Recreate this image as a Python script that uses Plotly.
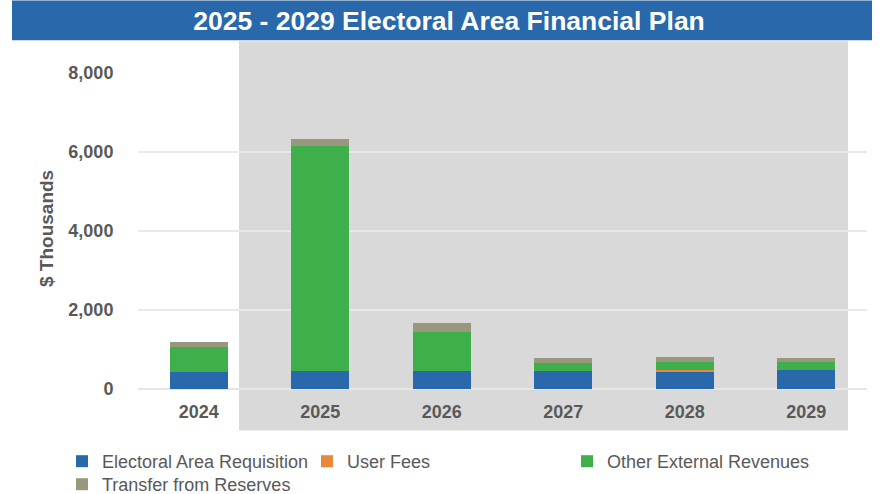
import plotly.graph_objects as go

years = ["2024", "2025", "2026", "2027", "2028", "2029"]
requisition = [420, 450, 450, 450, 440, 480]
user_fees = [0, 0, 0, 0, 50, 0]
other_external = [640, 5700, 1000, 200, 200, 200]
reserves = [130, 180, 220, 140, 110, 110]

series = [
    ("Electoral Area Requisition", requisition, "#2868AB", "legend"),
    ("User Fees", user_fees, "#E8893A", "legend2"),
    ("Other External Revenues", other_external, "#3EAF4A", "legend3"),
    ("Transfer from Reserves", reserves, "#9A977F", "legend4"),
]

W, H = 885, 494
L, R, T, B = 138, 867, 72.7, 389.3
FONT = "Liberation Sans, Arial, sans-serif"

def px_x(p):
    return (p - L) / (R - L)

def px_y(p):
    return (B - p) / (B - T)

fig = go.Figure()
for name, vals, col, lg in series:
    fig.add_trace(go.Bar(x=years, y=vals, name=name, legend=lg,
                         marker=dict(color=col, line=dict(width=0))))

def legend_at(xpx, ypx):
    return dict(
        orientation="v",
        xref="container", yref="container",
        x=xpx / W, xanchor="left",
        y=1 - ypx / H, yanchor="top",
        font=dict(size=18, color="#595959", family=FONT),
        traceorder="normal",
        bgcolor="rgba(0,0,0,0)",
    )

fig.update_layout(
    width=W, height=H,
    barmode="stack",
    bargap=0.52,
    paper_bgcolor="white",
    plot_bgcolor="rgba(0,0,0,0)",
    margin=dict(l=L, r=W - R, t=T, b=H - B, autoexpand=False),
    font=dict(family=FONT, color="#595959"),
    title=dict(
        text="<b>2025 - 2029 Electoral Area Financial Plan</b>",
        font=dict(size=26.5, color="white", family=FONT),
        x=449 / W, xanchor="center", xref="container",
        y=1 - 21 / H, yanchor="middle", yref="container",
    ),
    shapes=[
        dict(type="rect", xref="paper", yref="paper",
             x0=px_x(12), x1=px_x(872), y0=px_y(40), y1=px_y(0),
             fillcolor="#2868AB", line=dict(width=0), layer="below"),
        dict(type="rect", xref="paper", yref="paper",
             x0=px_x(239), x1=px_x(848), y0=px_y(431), y1=px_y(41),
             fillcolor="#D9D9D9", line=dict(width=0), layer="below"),
    ],
    annotations=[
        dict(text="<b>$ Thousands</b>", xref="paper", yref="paper",
             x=px_x(46), y=px_y(229), xanchor="center", yanchor="middle",
             textangle=-90, showarrow=False,
             font=dict(size=19, color="#595959", family=FONT)),
    ],
    legend=legend_at(62, 443),
    legend2=legend_at(307, 443),
    legend3=legend_at(567, 443),
    legend4=legend_at(62, 466),
    showlegend=True,
)

fig.update_yaxes(
    range=[0, 8000],
    tickvals=[0, 2000, 4000, 6000, 8000],
    ticktext=["0", "2,000", "4,000", "6,000", "8,000"],
    tickfont=dict(size=18, color="#595959", family=FONT, weight="bold"),
    ticks="outside", ticklen=20, tickcolor="rgba(0,0,0,0)",
    showgrid=True, gridcolor="#E9E9E9", gridwidth=2,
    zeroline=True, zerolinecolor="#E6E6E6", zerolinewidth=2,
    showline=False,
)
fig.update_xaxes(
    tickfont=dict(size=18, color="#595959", family=FONT, weight="bold"),
    ticks="outside", ticklen=6, tickcolor="rgba(0,0,0,0)",
    showline=False, showgrid=False,
)

fig.write_html("out.html", config={"displayModeBar": False},
               post_script="document.body.style.margin='0';")
